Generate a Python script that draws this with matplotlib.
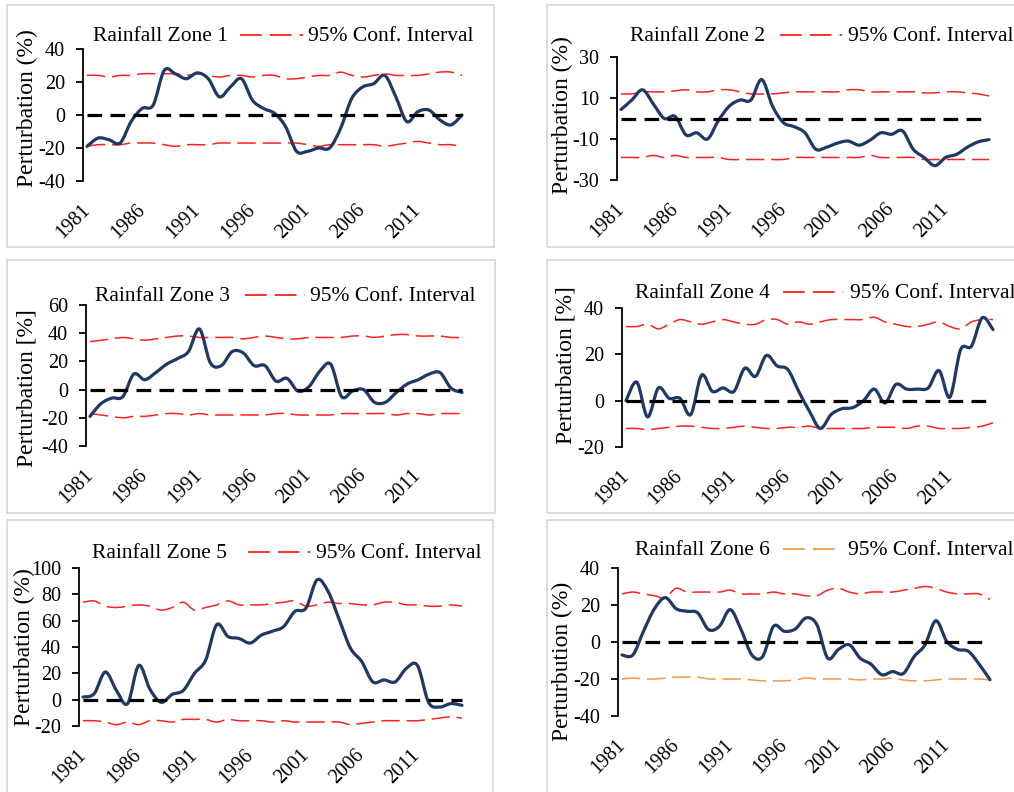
import numpy as np
import matplotlib
matplotlib.use("Agg")
import matplotlib.pyplot as plt
from matplotlib.path import Path
from matplotlib.patches import PathPatch, Rectangle
from matplotlib.lines import Line2D

plt.rcParams["font.family"] = ["Liberation Serif", "DejaVu Serif"]
plt.rcParams["axes.unicode_minus"] = False

years = np.arange(1981, 2016)

# ---- values (1981 .. 2015) ----
zone1 = [-19, -14, -15, -17, -4, 4, 6, 27, 25, 22, 25.5, 22, 11, 17, 22, 9, 4, 1, -7,
         -22, -22, -20, -20, -8, 10, 17, 19, 24, 11, -4, 2, 3, -3, -6, 0]
zone1_up = [24, 24, 23, 24, 24, 25, 25, 25, 25, 24, 25, 24, 23, 24, 24, 23, 24, 24, 22,
            22, 23, 24, 24, 26, 24, 23, 24, 25, 24, 24, 24, 25, 26, 26, 24]
zone1_lo = [-19, -18, -18, -18, -17, -17, -17, -18, -19, -18, -18, -18, -17, -17, -17,
            -17, -17, -17, -17, -17, -18, -19, -18, -18, -18, -18, -18, -19, -18, -17,
            -16, -17, -18, -18, -19]

zone2 = [4.4, 9, 14, 7, 0, 1, -8, -7, -10, -1, 6, 9, 9, 19, 6, -2, -4, -7, -15, -14,
         -12, -11, -13, -10.6, -7, -7.7, -6, -15, -19, -23, -19, -17.5, -14, -11.4, -10.3]
zone2_up = [12, 12, 13, 13, 13, 13.5, 14, 13, 13, 14, 14, 13, 12, 12, 12, 12.5, 13, 13,
            13, 13, 13, 14, 14, 13, 13, 13, 13, 13, 12.5, 12.5, 13, 13, 12.5, 12, 11]
zone2_lo = [-19, -19, -19, -18, -19, -18, -19, -19, -19, -19, -20, -20, -20, -20, -20,
            -20, -19, -19, -19, -19, -19, -19, -19, -18, -19, -19, -19, -19, -20, -20,
            -20, -20, -20, -20, -20]

zone3 = [-19, -10, -6, -5, 11, 7, 12, 18, 22, 27, 43, 19, 17, 27, 26, 17, 17, 6, 8, -1,
         2, 13, 18, -5, -1, 0, -9, -9, -2, 4, 7, 11, 12, 1, -2]
zone3_up = [34, 35, 36, 37, 36, 35, 36, 37, 38, 38, 37, 37, 37, 37, 36, 37, 38, 37, 36,
            36, 37, 37, 37, 37, 38, 38, 37, 38, 39, 39, 38, 38, 38, 37, 37]
zone3_lo = [-17, -18, -19, -20, -19, -19, -18, -17, -17, -18, -17, -18, -18, -18, -18,
            -18, -18, -17, -17, -18, -18, -18, -18, -17, -17, -17, -17, -17, -18, -17,
            -17, -18, -17, -17, -17]

zone4 = [0, 8, -7, 5.5, 1, 1, -6, 11, 4, 5.5, 4, 14, 10.5, 19.5, 15, 13.4, 4, -4.6, -12,
         -6, -3.5, -3, 0, 5, -1, 7, 5, 5, 5.5, 13, 1.5, 22, 23.5, 35.8, 30.7]
zone4_up = [32, 32, 33, 31, 33, 35, 34, 33, 34, 35, 34, 33, 33, 35, 35, 33, 34, 33, 34,
            35, 35, 35, 35, 36, 34, 33, 32, 32, 33, 34, 32, 31, 34, 35, 35]
zone4_lo = [-12, -12, -12.5, -12, -11.5, -11, -11, -11.5, -12, -12, -11.5, -11, -11.5,
            -12, -12, -11.5, -11.5, -11, -12, -12, -12, -12, -12, -11.5, -11.5, -11.5,
            -12, -11, -11, -12, -12, -12, -11.5, -11, -9.5]

zone5 = [2, 4.5, 21, 7, -3, 26, 8, -2, 4, 7, 20, 30, 57, 48, 46.5, 43, 49, 52, 55.5, 67,
         69.5, 91, 82, 60.5, 39, 29, 13.5, 15, 13.5, 23.7, 26, -2, -5.6, -3, -4.3]
zone5_up = [74, 75, 71, 70, 71, 72, 71, 68, 70, 74, 68, 70, 72, 75, 72, 72, 72, 73, 74,
            75, 71, 72, 74, 73, 73, 72, 72, 74, 74, 72, 72, 71, 71, 72, 71]
zone5_lo = [-16, -16, -17, -19, -17, -19, -16, -16, -17, -15, -15, -15, -17, -15, -16,
            -16, -16, -17, -16, -17, -17, -17, -17, -17, -19, -18, -17, -16, -16, -16,
            -16, -15, -14, -13, -14]

zone6 = [-7, -7, 6, 18, 24, 18, 16.6, 15.7, 6.7, 8.5, 17.5, 6.7, -7, -7.8, 8.5, 5.8, 7,
         13, 9.4, -8.7, -4, -1.5, -8.7, -12, -17.7, -16, -17, -7.8, -1.5, 11.5, 0.4, -4,
         -5, -12, -20.4]
zone6_up = [26, 27, 26, 25, 24, 29, 27, 27, 27, 27, 28, 26, 26, 26, 27, 26, 26, 25, 25,
            28, 29, 27, 26, 27, 27, 27, 28, 29, 30, 29, 27, 26, 26, 26, 23]
zone6_lo = [-20, -19.5, -20, -20, -19.5, -19, -19, -19, -20, -20, -20, -20, -20.5, -21,
            -21, -21, -20.5, -19.5, -20, -20, -20, -20, -20.5, -20, -20, -19.5, -20.5,
            -21, -21, -20.5, -20, -20, -20, -20, -20.5]

zone_names = ["Rainfall Zone 1", "Rainfall Zone 2", "Rainfall Zone 3",
              "Rainfall Zone 4", "Rainfall Zone 5", "Rainfall Zone 6"]
ylabels = ["Perturbation (%)", "Perturbation (%)", "Perturbation [%]",
           "Perturbation [%]", "Perturbation (%)", "Perturbution (%)"]
yranges = [(-40, 40, 20), (-30, 30, 20), (-40, 60, 20), (-20, 40, 20), (-20, 100, 20), (-40, 40, 20)]
series = [(zone1, zone1_up, zone1_lo), (zone2, zone2_up, zone2_lo), (zone3, zone3_up, zone3_lo),
          (zone4, zone4_up, zone4_lo), (zone5, zone5_up, zone5_lo), (zone6, zone6_up, zone6_lo)]
xtick_years = [1981, 1986, 1991, 1996, 2001, 2006, 2011]

W, H = 1014, 792
NAVY = "#1F3864"
RED = "#FF2020"
ORANGE = "#F79646"

# layout in pixels: 1981 x, 2015 x, top y, bottom y  (spine sits 4 px left of 1981)
layout = [(87, 462, 49, 181), (621, 989, 57, 180),
          (90, 462, 305, 446), (626, 993, 308, 447),
          (83, 462, 568, 726), (622, 990, 568, 716)]
boxes = [(7, 5, 494, 247), (547, 5, 1030, 247), (7, 260, 495, 513),
         (547, 260, 1030, 513), (7, 520, 493, 810), (547, 520, 1030, 810)]
# legend: text x, sample x0, x1, conf text x, baseline y
legend_pos = [(93, 240, 303, 308, 41), (630, 780, 842, 848, 41),
              (95, 245, 305, 310, 301), (635, 783, 843, 850, 298),
              (92, 248, 310, 316, 558), (635, 783, 842, 848, 555)]
ylab_pos = [(27, 108), (562, 115), (27, 388), (566, 365), (24, 647), (562, 661)]


def smooth_path(x, y):
    pts = np.column_stack([x, y]).astype(float)
    n = len(pts)
    verts = [pts[0]]
    codes = [Path.MOVETO]
    for i in range(n - 1):
        p0 = pts[i - 1] if i > 0 else pts[i]
        p1 = pts[i]
        p2 = pts[i + 1]
        p3 = pts[i + 2] if i + 2 < n else pts[i + 1]
        verts += [p1 + (p2 - p0) / 6, p2 - (p3 - p1) / 6, p2]
        codes += [Path.CURVE4] * 3
    return Path(verts, codes)


fig = plt.figure(figsize=(W / 100, H / 100), dpi=100)

for i in range(6):
    bx0, by0, bx1, by1 = boxes[i]
    fig.patches.append(Rectangle((bx0 / W, 1 - by1 / H), (bx1 - bx0) / W, (by1 - by0) / H,
                                 transform=fig.transFigure, fill=False,
                                 edgecolor="#D9D9D9", linewidth=1.3))

    x81, x15, ty, byy = layout[i]
    sx = x81 - 4
    k = (x15 - x81) / 34.0
    xl = 1981 - (x81 - sx) / k
    xr = 2015 + 0.35
    right = x15 + 0.35 * k
    ax = fig.add_axes([sx / W, 1 - byy / H, (right - sx) / W, (byy - ty) / H])
    ymin, ymax, step = yranges[i]
    ax.set_xlim(xl, xr)
    ax.set_ylim(ymin, ymax)
    ax.patch.set_visible(False)

    vals, up, lo = series[i]
    lo_color = ORANGE if i == 5 else RED
    ax.add_patch(PathPatch(smooth_path(years, up), fill=False, edgecolor=RED,
                           linewidth=1.1, linestyle=(0, (12, 4.5))))
    ax.add_patch(PathPatch(smooth_path(years, lo), fill=False, edgecolor=lo_color,
                           linewidth=1.1, linestyle=(0, (12, 4.5))))
    ax.plot(years, np.zeros(len(years)), color="black", linewidth=2.3,
            dashes=(4.6, 2.6), solid_capstyle="butt")
    ax.add_patch(PathPatch(smooth_path(years, vals), fill=False, edgecolor=NAVY,
                           linewidth=2.3, capstyle="round", joinstyle="round"))

    for s in ["top", "right", "bottom"]:
        ax.spines[s].set_visible(False)
    ax.spines["left"].set_linewidth(1.3)
    ax.set_yticks(np.arange(ymin, ymax + 1, step))
    ax.tick_params(axis="y", direction="out", length=5, width=1.3, labelsize=14.5, pad=8)
    ax.set_xticks(xtick_years)
    ax.set_xticklabels([str(y) for y in xtick_years], rotation=45, ha="right",
                       va="center", rotation_mode="anchor")
    ax.tick_params(axis="x", length=0, labelsize=14.5, pad=19)

    tx, lx0, lx1, ctx, base = legend_pos[i]
    fig.text(tx / W, 1 - base / H, zone_names[i], fontsize=15.5, va="baseline")
    fig.lines.append(Line2D([lx0 / W, lx1 / W], [1 - (base - 6) / H] * 2,
                            transform=fig.transFigure,
                            color=lo_color if i == 5 else RED, linewidth=1.3,
                            linestyle=(0, (12, 4.5))))
    fig.text(ctx / W, 1 - base / H, "95% Conf. Interval", fontsize=15.5, va="baseline")

    yx, yy = ylab_pos[i]
    fig.text(yx / W, 1 - yy / H, ylabels[i], rotation=90, fontsize=17,
             ha="center", va="center")

fig.savefig("out.png", dpi=100)
